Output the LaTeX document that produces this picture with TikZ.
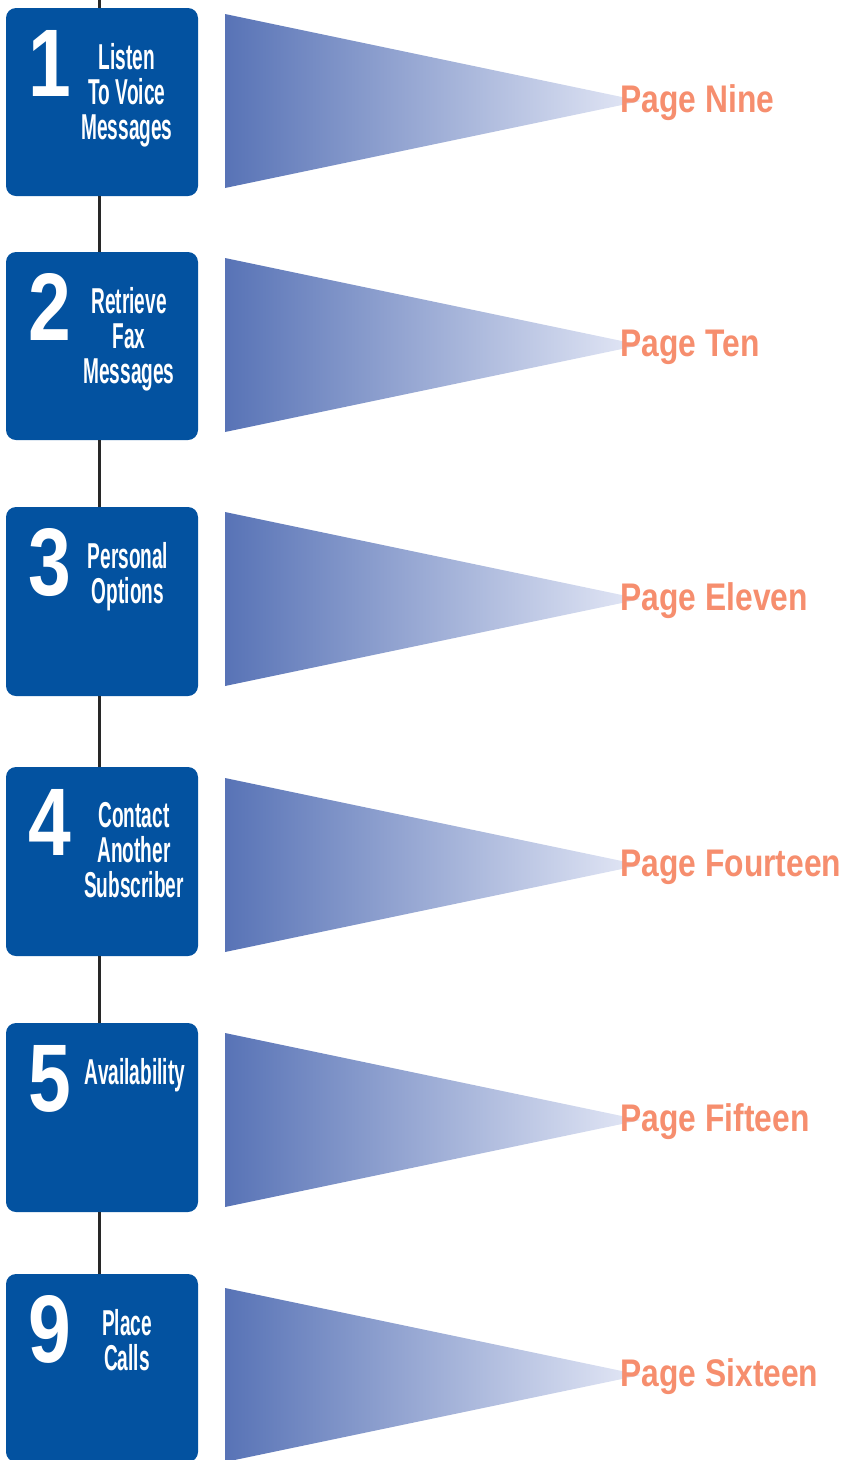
\documentclass[tikz,border=0pt]{standalone}
\usepackage{fontspec}
\newfontfamily\numfont{Liberation Sans}[FakeStretch=0.8]
\newfontfamily\menufont{Liberation Sans}[FakeStretch=0.53]
\newfontfamily\pagefont{Liberation Sans}[FakeStretch=0.825]
\definecolor{menublue}{RGB}{3,82,160}
\definecolor{fanleft}{RGB}{88,115,182}
\definecolor{fanright}{RGB}{228,232,246}
\definecolor{pageorange}{RGB}{246,142,110}
\definecolor{spine}{RGB}{40,40,40}
\tikzset{
  menubox/.style={fill=menublue, draw=none, rounded corners=10pt,
    minimum width=192pt, inner sep=0pt},
  menunum/.style={anchor=base, inner sep=0pt, text=white,
    font=\numfont\bfseries\fontsize{96}{96}\selectfont},
  menutext/.style={anchor=north, inner sep=0pt, text=white, align=center,
    font=\menufont\bfseries\fontsize{36}{35}\selectfont},
  pagelabel/.style={anchor=base west, inner sep=0pt, text=pageorange,
    font=\pagefont\bfseries\fontsize{38.5}{40}\selectfont},
  spineline/.style={draw=spine, line width=3pt},
}
\begin{document}
\begin{tikzpicture}[x=1pt, y=-1pt]
\useasboundingbox (0,0) rectangle (846,1460);
\clip (0,0) rectangle (846,1460);
% box top / box height / fan top / menu digit / text centre / menu text / page
\foreach \bt/\bh/\ft/\n/\cx/\lines/\page in {
  8/188/14/1/127/{Listen\\To Voice\\Messages}/{Page Nine},
  252/188/258/2/129/{Retrieve\\Fax\\Messages}/{Page Ten},
  507/189/512/3/128/{Personal\\Options}/{Page Eleven},
  767/189/778/4/134/{Contact\\Another\\Subscriber}/{Page Fourteen},
  1023/189/1033/5/135/{Availability}/{Page Fifteen},
  1274/188/1288/9/127/{Place\\Calls}/{Page Sixteen}}{
  % menu box
  \node[menubox, minimum height=\bh pt] (b\n) at (102,\bt+\bh/2) {};
  \node[menunum] (n\n) at (50,\bt+88) {\n};
  \node[menutext] (t\n) at (\cx,\bt+35.5) {\lines};
  % fan pointing to the page reference
  \shade[left color=fanleft, right color=fanright]
    (225,\ft) -- (641,\ft+87) -- (225,\ft+174) -- cycle;
  \node[pagelabel] (p\n) at (620.5,\ft+98) {\page};
}
% spine joining the menu boxes
\coordinate (top) at (99,0);
\draw[spineline] (top) -- ([xshift=-3pt]b1.north);
\draw[spineline] ([xshift=-3pt]b1.south) -- ([xshift=-3pt]b2.north);
\draw[spineline] ([xshift=-3pt]b2.south) -- ([xshift=-3pt]b3.north);
\draw[spineline] ([xshift=-3pt]b3.south) -- ([xshift=-3pt]b4.north);
\draw[spineline] ([xshift=-3pt]b4.south) -- ([xshift=-3pt]b5.north);
\draw[spineline] ([xshift=-3pt]b5.south) -- ([xshift=-3pt]b9.north);
\end{tikzpicture}
\end{document}
